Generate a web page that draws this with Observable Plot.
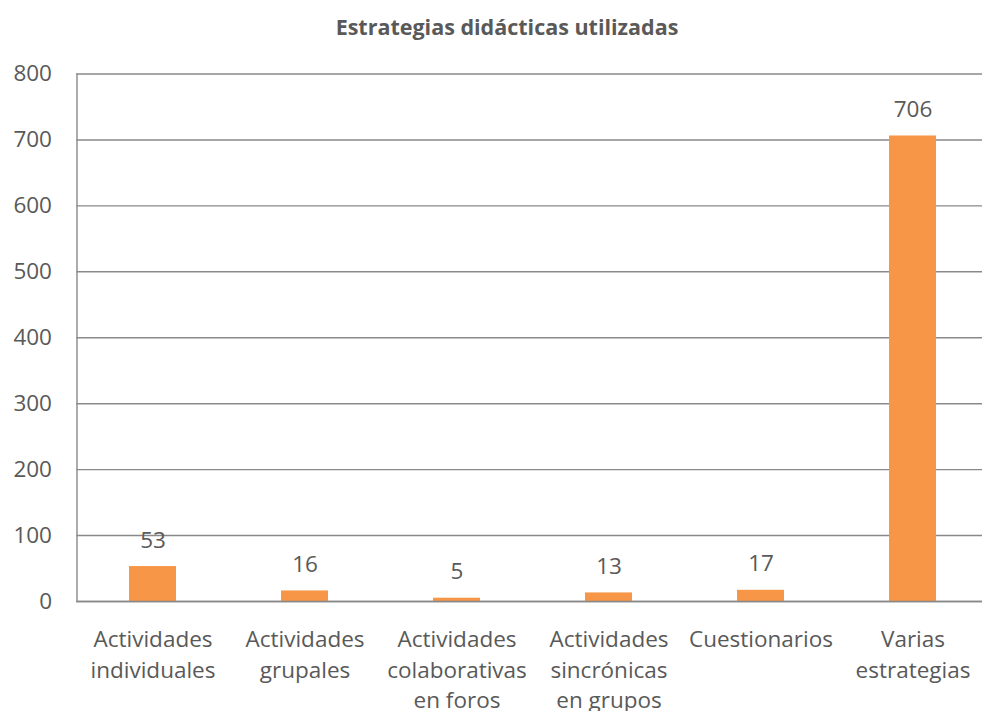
<!DOCTYPE html>
<html>
<head>
<meta charset="utf-8">
<script src="https://cdn.jsdelivr.net/npm/d3@7"></script>
<script src="https://cdn.jsdelivr.net/npm/@observablehq/plot@0.6"></script>
<style>
  html, body { margin: 0; padding: 0; background: #fff; overflow: hidden; width: 982px; height: 711px; }
  #title { height: 50px; width: 982px; box-sizing: border-box; padding-top: 16px; padding-left: 32px; text-align: center;
           font-family: "Open Sans", sans-serif; font-weight: bold; font-size: 21.5px; color: #595959; line-height: 21.5px; white-space: nowrap; }
  #chart svg { overflow: visible; max-width: none; }
</style>
</head>
<body>
<div id="title">Estrategias didácticas utilizadas</div>
<div id="chart"></div>
<script>
const categories = ["Actividades individuales", "Actividades grupales", "Actividades colaborativas en foros", "Actividades sincrónicas en grupos", "Cuestionarios", "Varias estrategias"];
const tickLabels = ["Actividades\nindividuales", "Actividades\ngrupales", "Actividades\ncolaborativas\nen foros", "Actividades\nsincrónicas\nen grupos", "Cuestionarios", "Varias\nestrategias"];
const values = [53, 16, 5, 13, 17, 706];
const yTicks = [0, 100, 200, 300, 400, 500, 600, 700, 800];

const data = categories.map((c, i) => ({category: c, label: tickLabels[i], value: values[i]}));

const font = "'Open Sans', sans-serif";
const textColor = "#595959";
const gridColor = "#898989";
const fs = 22.5;

const chart = Plot.plot({
  width: 982,
  height: 661,
  marginLeft: 76.5,
  marginRight: -6.5,
  marginTop: 23.5,
  marginBottom: 110,
  style: {fontFamily: font, color: textColor, background: "transparent", overflow: "visible"},
  x: {domain: categories, paddingInner: 0.69, paddingOuter: 0.345, axis: null},
  y: {domain: [0, 800], axis: null},
  marks: [
    Plot.gridY(yTicks, {stroke: gridColor, strokeOpacity: 1, strokeWidth: 1.4}),
    Plot.barY(data, {x: "category", y: "value", fill: "#F79646"}),
    Plot.ruleY([0], {stroke: gridColor, strokeWidth: 1.6}),
    Plot.frame({anchor: "left", stroke: gridColor, strokeWidth: 1.4}),
    Plot.axisY(yTicks, {tickSize: 0, tickPadding: 25, fontSize: fs, fill: textColor, label: null, tickFormat: d => String(d)}),
    Plot.text(data, {x: "category", y: "value", text: d => String(d.value), dy: -19, lineAnchor: "bottom", fontSize: fs, fill: textColor}),
    Plot.text(data, {x: "category", y: () => 0, text: "label", dy: 24, lineAnchor: "top", lineHeight: 1.36, fontSize: fs, fill: textColor})
  ]
});
document.getElementById("chart").appendChild(chart);
</script>
</body>
</html>
